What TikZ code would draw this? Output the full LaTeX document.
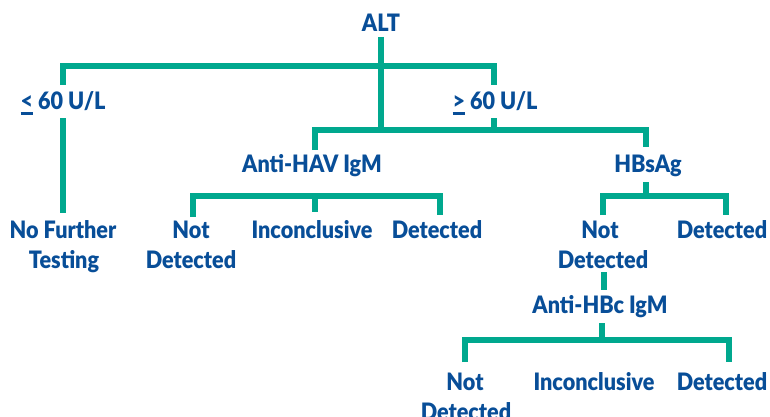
\documentclass[tikz,border=0pt]{standalone}
\usepackage{fontspec}
\setmainfont{Lato}[UprightFont=* Black, FakeStretch=0.9]
\definecolor{teal}{RGB}{0,168,142}
\definecolor{ink}{RGB}{8,78,152}
\newcommand\ulsym[1]{\setbox0\hbox{#1}\rlap{\rule[-0.19em]{\wd0}{0.1em}}\box0\relax}
\tikzset{
  lbl/.style={anchor=base, inner sep=0pt, text=ink, font=\fontsize{24}{30}\selectfont},
  conn/.style={draw=teal, line width=6.5pt, line cap=butt, line join=miter}
}
\begin{document}
\begin{tikzpicture}[x=1pt,y=-1pt]
\useasboundingbox (0,0) rectangle (770,417);
% texts
\node[lbl] (alt) at (381,32) {ALT};
\node[lbl] (le) at (63,110) {\ulsym{<} 60 U/L};
\node[lbl] (ge) at (495,110) {\ulsym{>} 60 U/L};
\node[lbl] (hav) at (312,172) {Anti-HAV IgM};
\node[lbl] (hbs) at (648,172) {HBsAg};
\node[lbl] (nf1) at (63,238) {No Further};
\node[lbl] (nf2) at (64,268) {Testing};
\node[lbl] (hnd1) at (191,238) {Not};
\node[lbl] (hnd2) at (191,268) {Detected};
\node[lbl] (hinc) at (312,238) {Inconclusive};
\node[lbl] (hdet) at (437,238) {Detected};
\node[lbl] (bnd1) at (600,238) {Not};
\node[lbl] (bnd2) at (603,268) {Detected};
\node[lbl] (bdet) at (722,238) {Detected};
\node[lbl] (hbc) at (600,313) {Anti-HBc IgM};
\node[lbl] (cnd1) at (465,390) {Not};
\node[lbl] (cnd2) at (466,420) {Detected};
\node[lbl] (cinc) at (594,390) {Inconclusive};
\node[lbl] (cdet) at (722,390) {Detected};
% junction coordinates
\coordinate (altb) at (381,37);
\coordinate (altj) at (381,130);
\coordinate (topj) at (381,66);
\coordinate (lt) at (63,85);
\coordinate (lb) at (63,118);
\coordinate (lbe) at (63,213);
\coordinate (rt) at (494,85);
\coordinate (rb) at (494,118);
\coordinate (rj) at (494,130);
\coordinate (havt) at (315,150);
\coordinate (hbst) at (646,147);
\coordinate (havl) at (193,217);
\coordinate (havm) at (315,212);
\coordinate (havmj) at (315,196);
\coordinate (havr) at (440,215);
\coordinate (hbsb) at (646,182);
\coordinate (hbsj) at (646,196);
\coordinate (hbsl) at (603,215);
\coordinate (hbsr) at (726,215);
\coordinate (ndb) at (604,272);
\coordinate (hbct) at (604,290);
\coordinate (hbcb) at (602,323);
\coordinate (hbcj) at (602,340);
\coordinate (hbcl) at (465,362);
\coordinate (hbcr) at (729,362);
% connectors
\draw[conn] (altb) -- (altj);
\draw[conn] (lt) |- (topj) -| (rt);
\draw[conn] (lb) -- (lbe);
\draw[conn] (rb) -- (rj);
\draw[conn] (havt) |- (altj) -| (hbst);
\draw[conn] (havl) |- (havmj) -| (havr);
\draw[conn] (havmj) -- (havm);
\draw[conn] (hbsb) -- (hbsj);
\draw[conn] (hbsl) |- (hbsj) -| (hbsr);
\draw[conn] (ndb) -- (hbct);
\draw[conn] (hbcb) -- (hbcj);
\draw[conn] (hbcl) |- (hbcj) -| (hbcr);
\end{tikzpicture}
\end{document}
